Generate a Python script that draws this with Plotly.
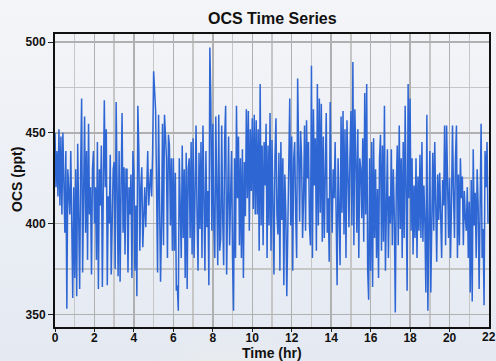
import plotly.graph_objects as go

# OCS values (ppt), 20 readings per hour
h00 = [450, 420, 440, 415, 452, 410, 448, 405, 450, 425, 395, 440, 353, 430, 420, 405, 440, 380, 359, 420]
h01 = [370, 430, 360, 444, 390, 364, 430, 469, 373, 410, 459, 395, 440, 380, 455, 405, 420, 372, 430, 440]
h02 = [400, 420, 380, 445, 364, 430, 410, 443, 365, 420, 468, 420, 452, 366, 415, 400, 438, 372, 410, 430]
h03 = [434, 375, 467, 400, 371, 440, 368, 420, 461, 395, 431, 383, 430, 430, 373, 420, 405, 427, 370, 440]
h04 = [428, 374, 410, 360, 465, 440, 385, 420, 431, 387, 405, 420, 398, 430, 440, 410, 420, 430, 415, 440]
h05 = [484, 470, 462, 418, 373, 460, 418, 368, 399, 455, 388, 460, 449, 436, 381, 449, 443, 399, 436, 385]
h06 = [436, 385, 428, 363, 366, 352, 436, 412, 381, 443, 392, 430, 370, 439, 364, 430, 436, 392, 445, 383]
h07 = [447, 381, 430, 454, 405, 374, 439, 397, 445, 381, 454, 404, 374, 440, 398, 418, 366, 497, 467, 396]
h08 = [455, 399, 381, 459, 421, 377, 460, 385, 392, 454, 403, 377, 446, 465, 372, 425, 448, 388, 408, 440]
h09 = [380, 352, 436, 381, 465, 414, 448, 388, 436, 381, 441, 370, 434, 404, 463, 414, 462, 396, 452, 418]
h10 = [458, 408, 460, 405, 457, 405, 452, 385, 477, 399, 443, 388, 445, 421, 455, 381, 443, 399, 461, 385]
h11 = [446, 408, 372, 436, 458, 405, 394, 439, 374, 445, 402, 436, 366, 427, 406, 360, 414, 432, 469, 399]
h12 = [448, 374, 436, 445, 406, 381, 480, 417, 401, 451, 436, 392, 414, 454, 396, 457, 425, 445, 399, 388]
h13 = [487, 381, 463, 421, 447, 385, 477, 399, 469, 406, 466, 390, 448, 392, 445, 461, 395, 414, 379, 467]
h14 = [421, 395, 430, 414, 445, 390, 366, 436, 414, 377, 459, 406, 462, 394, 452, 381, 457, 419, 398, 436]
h15 = [462, 399, 489, 388, 463, 436, 395, 452, 381, 436, 430, 403, 447, 390, 472, 405, 477, 374, 358, 436]
h16 = [374, 445, 365, 447, 392, 430, 381, 419, 370, 436, 449, 385, 443, 390, 465, 374, 417, 441, 381, 415]
h17 = [400, 441, 388, 430, 405, 351, 420, 443, 388, 454, 397, 436, 381, 445, 392, 465, 417, 363, 477, 414]
h18 = [469, 396, 436, 383, 421, 392, 436, 381, 426, 396, 438, 392, 445, 390, 421, 400, 362, 460, 352, 420]
h19 = [440, 362, 421, 439, 396, 445, 410, 379, 427, 402, 428, 401, 381, 424, 410, 454, 388, 454, 417, 392]
h20 = [425, 381, 412, 454, 417, 392, 436, 454, 381, 427, 388, 436, 414, 426, 388, 418, 403, 396, 420, 381]
h21 = [412, 362, 424, 357, 441, 399, 417, 381, 430, 410, 364, 432, 455, 381, 397, 355, 440, 420, 445, 400]

hours = [h00, h01, h02, h03, h04, h05, h06, h07, h08, h09, h10,
         h11, h12, h13, h14, h15, h16, h17, h18, h19, h20, h21]
step_hr = 0.05

ocs = [v for block in hours for v in block]
time_hr = [i * step_hr for i in range(len(ocs))]

x_ticks = [0, 2, 4, 6, 8, 10, 12, 14, 16, 18, 20, 22]
y_ticks = [350, 400, 450, 500]

font_family = "Liberation Sans, Arial, sans-serif"

W, H = 496, 361
ML, MR, MT, MB = 55, 7, 34, 34
PW, PH = W - ML - MR, H - MT - MB
X_RANGE = [0, 22]

bg_svg = (
    "data:image/svg+xml;utf8,"
    "<svg xmlns='http://www.w3.org/2000/svg' width='496' height='361'>"
    "<defs>"
    "<linearGradient id='g' x1='0' y1='0' x2='0' y2='1'>"
    "<stop offset='0' stop-color='%23f4f5f8'/><stop offset='1' stop-color='%23e4e9f2'/></linearGradient>"
    "<radialGradient id='r' cx='0.5' cy='1' r='0.6'>"
    "<stop offset='0' stop-color='%23fdf6d8' stop-opacity='1'/>"
    "<stop offset='1' stop-color='%23fdf6d8' stop-opacity='0'/></radialGradient>"
    "</defs>"
    "<rect width='496' height='361' fill='url(%23g)'/>"
    "<ellipse cx='230' cy='361' rx='120' ry='160' fill='url(%23r)'/>"
    "</svg>"
)

fig = go.Figure()
fig.add_trace(go.Scatter(
    x=time_hr, y=ocs, mode="lines",
    line=dict(color="#2e66d4", width=1.5),
    hoverinfo="skip", showlegend=False,
))

# last x tick label sits on the page edge; drawn as an annotation so it is not culled
edge_tick = x_ticks[-1]

fig.update_layout(
    width=W, height=H,
    margin=dict(l=ML, r=MR, t=MT, b=MB, autoexpand=False),
    paper_bgcolor="#edf0f5",
    plot_bgcolor="rgba(255,255,255,0.35)",
    font=dict(family=font_family, color="#111111"),
    images=[dict(source=bg_svg, xref="paper", yref="paper",
                 x=-ML / PW, y=1 + MT / PH, sizex=W / PW, sizey=H / PH,
                 sizing="stretch", layer="below", xanchor="left", yanchor="top")],
    annotations=[
        dict(text="<b>OCS Time Series</b>", xref="paper", yref="paper",
             x=(272 - ML) / PW, y=1 + (MT - 18) / PH, xanchor="center", yanchor="middle",
             showarrow=False, font=dict(size=16, color="#111111")),
        dict(text="<b>Time (hr)</b>", xref="paper", yref="paper",
             x=(272 - ML) / PW, y=-(352.5 - MT - PH) / PH, xanchor="center", yanchor="middle",
             showarrow=False, font=dict(size=14, color="#111111")),
        dict(text="<b>OCS (ppt)</b>", xref="paper", yref="paper", textangle=-90,
             x=-(ML - 17) / PW, y=1 - (180 - MT) / PH, xanchor="center", yanchor="middle",
             showarrow=False, font=dict(size=14, color="#111111")),
        dict(text=f"<b>{edge_tick}</b>", xref="x", yref="paper",
             x=edge_tick, y=-(337 - MT - PH) / PH, xanchor="center", yanchor="middle",
             showarrow=False, font=dict(size=12, color="#111111")),
    ],
)

fig.update_xaxes(
    range=X_RANGE, tickvals=x_ticks[:-1], ticktext=[f"<b>{t}</b>" for t in x_ticks[:-1]],
    tickfont=dict(size=12), ticks="outside", ticklen=3, tickcolor="#222",
    ticklabelstandoff=-4,
    showgrid=True, gridcolor="#b0b0b0", gridwidth=1.5,
    minor=dict(dtick=1, showgrid=True, gridcolor="#c6c6c6", gridwidth=1.5),
    showline=True, linecolor="#111", linewidth=2, mirror=True, zeroline=False,
    automargin=False,
)
fig.update_yaxes(
    range=[343, 504.5], tickvals=y_ticks, ticktext=[f"<b>{t}</b>" for t in y_ticks],
    tickfont=dict(size=12), ticks="outside", ticklen=5, tickcolor="#222",
    showgrid=True, gridcolor="#b0b0b0", gridwidth=1.5,
    minor=dict(dtick=25, tick0=350, showgrid=True, gridcolor="#c6c6c6", gridwidth=1.5),
    showline=True, linecolor="#111", linewidth=2, mirror=True, zeroline=False,
    automargin=False,
)

fig.write_html("out.html", config={"displayModeBar": False, "staticPlot": True},
               post_script="document.body.style.margin='0';document.body.style.overflow='hidden';")
